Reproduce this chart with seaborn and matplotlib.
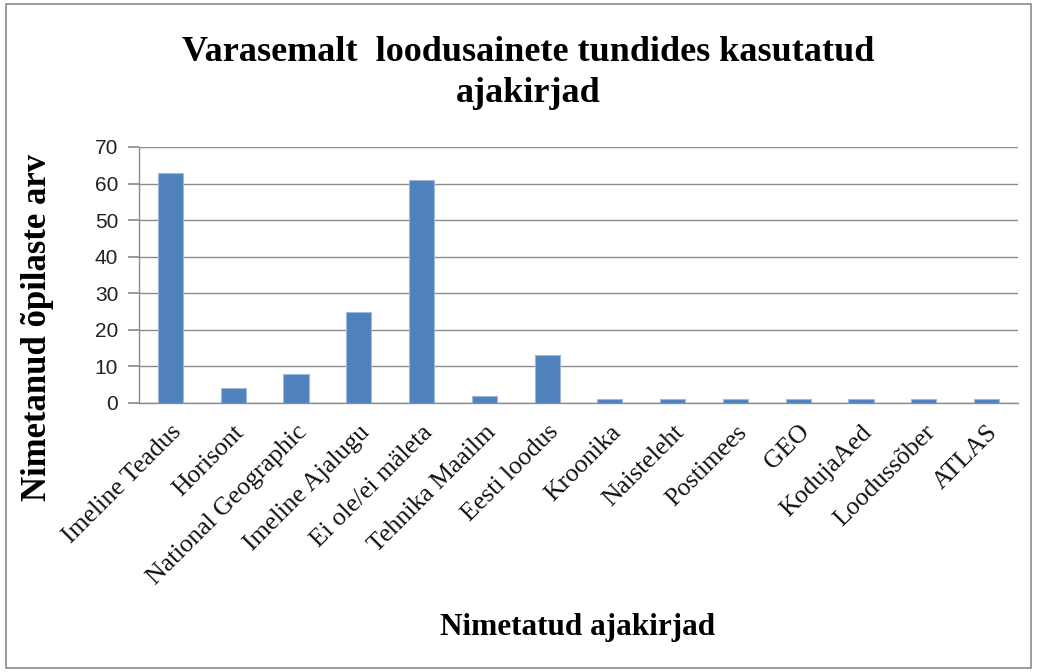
import matplotlib
matplotlib.use("Agg")
import matplotlib.pyplot as plt
import seaborn as sns
import pandas as pd
from matplotlib.patches import Rectangle

categories = ["Imeline Teadus", "Horisont", "National Geographic", "Imeline Ajalugu",
              "Ei ole/ei mäleta", "Tehnika Maailm", "Eesti loodus", "Kroonika",
              "Naisteleht", "Postimees", "GEO", "KodujaAed", "Loodussõber", "ATLAS"]
values = [63, 4, 8, 25, 61, 2, 13, 1, 1, 1, 1, 1, 1, 1]
yticks = [0, 10, 20, 30, 40, 50, 60, 70]

sns.set_theme(style="white")
plt.rcParams['font.family'] = ['Liberation Serif', 'DejaVu Serif']
plt.rcParams['text.color'] = 'black'

df = pd.DataFrame({"cat": categories, "val": values})

fig = plt.figure(figsize=(10.37, 6.72), dpi=100)
ax = fig.add_axes([139 / 1037, 1 - 403 / 672, (1018 - 139) / 1037, (403 - 147) / 672])
sns.barplot(data=df, x="cat", y="val", color="#4F81BD", width=0.4,
            saturation=1, ax=ax, edgecolor="#9DB9DE", linewidth=0.8, zorder=3)

ax.set_ylim(0, 70)
ax.set_xlim(-0.5, len(categories) - 0.5)
ax.set_yticks(yticks)
ax.set_yticklabels([str(v) for v in yticks], fontsize=15,
                   family=['Liberation Sans', 'DejaVu Sans'], color="#222222")
ax.yaxis.grid(True, color="#8C8C8C", linewidth=1.0, zorder=0)
ax.set_axisbelow(True)
ax.tick_params(axis="y", which="both", left=True, length=8, color="#8C8C8C", pad=7)
ax.tick_params(axis="x", bottom=False, pad=7)
ax.set_xticks(range(len(categories)))
ax.set_xticklabels(categories, rotation=45, ha="right", rotation_mode="anchor",
                   fontsize=18.5, color="#111111")

for s in ["top", "right"]:
    ax.spines[s].set_visible(False)
for s in ["left", "bottom"]:
    ax.spines[s].set_color("#8C8C8C")
    ax.spines[s].set_linewidth(1.0)

ax.set_xlabel("")
ax.set_ylabel("")

fig.text(38 / 1037, 1 - 327 / 672, "Nimetanud õpilaste arv", rotation=90,
         ha="center", va="center", fontsize=25, fontweight="bold", color="black")
fig.text(0.509, 1 - 73 / 672, "Varasemalt  loodusainete tundides kasutatud\najakirjad",
         ha="center", va="center", fontsize=26, fontweight="bold", linespacing=1.3,
         color="black")
fig.text(578 / 1037, 1 - 628 / 672, "Nimetatud ajakirjad", ha="center", va="center",
         fontsize=22.5, fontweight="bold", color="black")

fig.patches.append(Rectangle((0.006, 0.006), 0.988, 0.988, transform=fig.transFigure,
                             fill=False, edgecolor="#8C8C8C", linewidth=1.2))

fig.savefig("out.png", dpi=100)
